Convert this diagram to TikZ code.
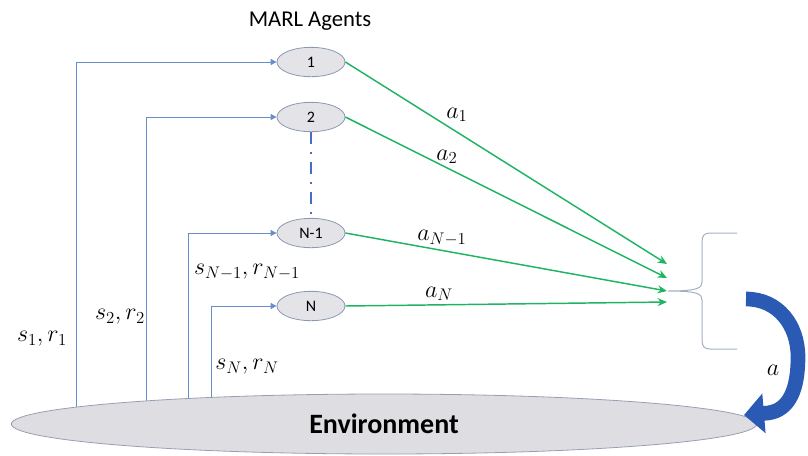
\RequirePackage{fix-cm}
\documentclass[tikz,border=0pt]{standalone}
\usepackage{fontspec}
\setmainfont{Carlito}
\usetikzlibrary{arrows.meta,shapes.geometric}

\begin{document}
\begin{tikzpicture}[x=0.75pt,y=0.75pt,yscale=-1,xscale=1,
  agent/.style={ellipse, draw={rgb, 255:red, 140; green, 152; blue, 178 }, fill={rgb, 255:red, 228; green, 228; blue, 232 }, line width=0.6pt, minimum width=51pt, minimum height=22pt, inner sep=0pt, font=\fontsize{12}{14}\selectfont},
  envnode/.style={ellipse, draw={rgb, 255:red, 150; green, 160; blue, 178 }, fill={rgb, 255:red, 222; green, 222; blue, 226 }, line width=0.6pt, minimum width=559pt, minimum height=45pt, inner sep=0pt, font=\fontsize{21}{24}\selectfont\bfseries},
  sig/.style={draw={rgb, 255:red, 105; green, 140; blue, 205 }, line width=0.75pt, -{Triangle[width=4.5pt,length=4.5pt]}},
  act/.style={draw={rgb, 255:red, 30; green, 180; blue, 100 }, line width=1.1pt, -{Stealth[width=6pt,length=7pt]}},
  lbl/.style={inner sep=0.75pt, font=\fontsize{18}{20}\selectfont},
  dashdot/.style={draw={rgb, 255:red, 70; green, 110; blue, 200 }, line width=1.5pt, dash pattern=on 9pt off 6pt on 1.5pt off 6pt}
]
\useasboundingbox (0,0) rectangle (808,455);

% Text Node
\node (title) at (310,21) [inner sep=0.75pt, font=\fontsize{17}{20}\selectfont] {MARL Agents};

%Shape: Ellipse [agents]
\node (a1) at (311,62) [agent] {1};
\node (a2) at (311,117) [agent] {2};
\node (an1) at (311,233) [agent] {N-1};
\node (an) at (311,306) [agent] {N};

%Straight Lines [dots between agents]
\draw [dashdot] (a2.south) -- (an1.north);

%Straight Lines [states and rewards], feet hidden under the environment
\coordinate (f1) at (76,414);
\coordinate (f2) at (146,408);
\coordinate (f3) at (188,406);
\coordinate (f4) at (211,404);
\draw [sig] (f1) |- (a1.west);
\draw [sig] (f2) |- (a2.west);
\draw [sig] (f3) |- (an1.west);
\draw [sig] (f4) |- (an.west);

%Shape: Ellipse [environment]
\node (env) at (384,424) [envnode] {Environment};

%Straight Lines [actions]
\coordinate (t1) at (667,264);
\coordinate (t2) at (667,278);
\coordinate (t3) at (667,291);
\coordinate (t4) at (667,302);
\draw [act] (a1.east) -- (t1);
\draw [act] (a2.east) -- (t2);
\draw [act] (an1.east) -- (t3);
\draw [act] (an.east) -- (t4);

%Shape: Brace
\draw [color={rgb, 255:red, 165; green, 175; blue, 195 }, line width=0.75pt] (737,233) -- (710,233) .. controls (704,233) and (702,236) .. (702,242) -- (702,282) .. controls (702,288) and (698,291) .. (668,291) .. controls (698,291) and (702,294) .. (702,300) -- (702,340) .. controls (702,346) and (704,349) .. (710,349) -- (737,349);

%Curve Lines [joint action]
\draw [color={rgb, 255:red, 42; green, 90; blue, 180 }, line width=11pt, -{Triangle[width=29pt,length=15pt]}] (746,299) .. controls (778,299) and (798,325) .. (798,357) .. controls (798,388) and (790,410) .. (768,413) -- (744,415);

% Text Node
\node (la1) at (457,115) [lbl] {$a_1$};
% Text Node
\node (la2) at (447,157) [lbl] {$a_2$};
% Text Node
\node (lan1) at (442,238) [lbl] {$a_{N-1}$};
% Text Node
\node (lan) at (439,294) [lbl] {$a_N$};
% Text Node
\node (lsr1) at (42,339) [lbl] {$s_1, r_1$};
% Text Node
\node (lsr2) at (120,317) [lbl] {$s_2, r_2$};
% Text Node
\node (lsrn1) at (247,272) [lbl] {$s_{N-1}, r_{N-1}$};
% Text Node
\node (lsrn) at (247,367) [lbl] {$s_N, r_N$};
% Text Node
\node (la) at (773,370) [lbl] {$a$};

\end{tikzpicture}
\end{document}
